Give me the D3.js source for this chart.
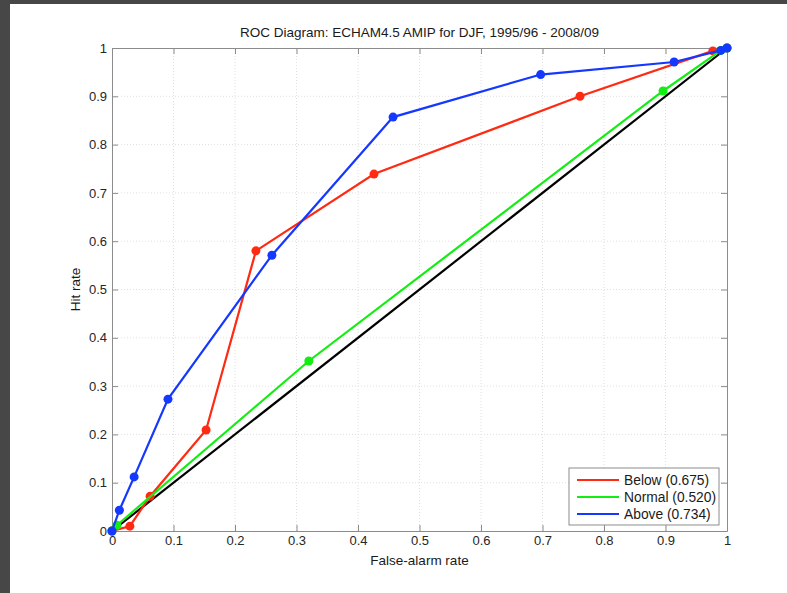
<!DOCTYPE html>
<html>
<head>
<meta charset="utf-8">
<script src="https://cdn.jsdelivr.net/npm/d3@7"></script>
<style>
  body { margin: 0; background: #474747; }
  svg { display: block; font-family: "Liberation Sans", Arial, sans-serif; }
</style>
</head>
<body>
<div id="chart"></div>
<script>
// ROC curve values (false-alarm rate, hit rate)
const belowFar = [0, 0.029, 0.062, 0.153, 0.234, 0.426, 0.761, 0.977, 1];
const belowHit = [0, 0.010, 0.072, 0.209, 0.580, 0.739, 0.900, 0.994, 1];
const normalFar = [0, 0.008, 0.320, 0.896, 0.990, 1];
const normalHit = [0, 0.012, 0.352, 0.911, 0.995, 1];
const aboveFar = [0, 0.012, 0.036, 0.091, 0.260, 0.457, 0.697, 0.914, 0.990, 1];
const aboveHit = [0, 0.043, 0.112, 0.273, 0.571, 0.857, 0.945, 0.971, 0.995, 1];
const seriesNames = ["Below (0.675)", "Normal (0.520)", "Above (0.734)"];
const ticks = [0, 0.1, 0.2, 0.3, 0.4, 0.5, 0.6, 0.7, 0.8, 0.9, 1];

const W = 787, H = 593;
const margin = { top: 48, right: 60, bottom: 62, left: 112 };

const svg = d3.select("#chart").append("svg")
    .attr("width", W)
    .attr("height", H);

// white figure panel over dark background
svg.append("rect")
    .attr("x", 10).attr("y", 4)
    .attr("width", W - 10).attr("height", H - 4)
    .attr("fill", "#fff");

const x = d3.scaleLinear().domain([0, 1]).range([margin.left, W - margin.right]);
const y = d3.scaleLinear().domain([0, 1]).range([H - margin.bottom, margin.top]);

// dotted grid
const grid = svg.append("g").attr("stroke", "#e0e0e0").attr("stroke-dasharray", "1,2");
grid.selectAll(".gx").data(ticks.slice(1, -1)).join("line")
    .attr("x1", d => x(d)).attr("x2", d => x(d))
    .attr("y1", y(0)).attr("y2", y(1));
grid.selectAll(".gy").data(ticks.slice(1, -1)).join("line")
    .attr("x1", x(0)).attr("x2", x(1))
    .attr("y1", d => y(d)).attr("y2", d => y(d));

// axes with inward ticks, on all four sides
const fmt = d => d3.format("~g")(d);
const axStyle = g => {
    g.select(".domain").attr("stroke", "#8c8c8c");
    g.selectAll(".tick line").attr("stroke", "#8c8c8c");
    g.selectAll(".tick text").attr("fill", "#262626").attr("font-size", 13);
};
svg.append("g").attr("transform", `translate(0,${y(0)})`)
    .call(d3.axisBottom(x).tickValues(ticks).tickFormat(fmt).tickSizeInner(-6).tickSizeOuter(0).tickPadding(5))
    .call(axStyle);
svg.append("g").attr("transform", `translate(0,${y(1)})`)
    .call(d3.axisTop(x).tickValues(ticks).tickFormat("").tickSizeInner(-6).tickSizeOuter(0))
    .call(axStyle);
svg.append("g").attr("transform", `translate(${x(0)},0)`)
    .call(d3.axisLeft(y).tickValues(ticks).tickFormat(fmt).tickSizeInner(-6).tickSizeOuter(0).tickPadding(5))
    .call(axStyle);
svg.append("g").attr("transform", `translate(${x(1)},0)`)
    .call(d3.axisRight(y).tickValues(ticks).tickFormat("").tickSizeInner(-6).tickSizeOuter(0))
    .call(axStyle);

const line = d3.line().x(d => x(d[0])).y(d => y(d[1]));

// no-skill diagonal
svg.append("path")
    .attr("d", line([[0, 0], [1, 1]]))
    .attr("fill", "none").attr("stroke", "#000").attr("stroke-width", 2.2);

const series = [
    { name: seriesNames[0], color: "#ff2a12", pts: d3.zip(belowFar, belowHit) },
    { name: seriesNames[1], color: "#12ee12", pts: d3.zip(normalFar, normalHit) },
    { name: seriesNames[2], color: "#1438ff", pts: d3.zip(aboveFar, aboveHit) }
];

series.forEach(s => {
    svg.append("path")
        .attr("d", line(s.pts))
        .attr("fill", "none").attr("stroke", s.color).attr("stroke-width", 2.2);
    svg.append("g").selectAll("circle").data(s.pts).join("circle")
        .attr("cx", d => x(d[0])).attr("cy", d => y(d[1]))
        .attr("r", 4.5).attr("fill", s.color);
});

// legend
const lg = svg.append("g").attr("transform", "translate(569,468)");
lg.append("rect").attr("width", 150).attr("height", 57)
    .attr("fill", "#fff").attr("stroke", "#8c8c8c");
series.forEach((s, i) => {
    const ly = 12 + i * 17;
    lg.append("line").attr("x1", 8).attr("x2", 50).attr("y1", ly).attr("y2", ly)
        .attr("stroke", s.color).attr("stroke-width", 2);
    lg.append("text").attr("x", 55).attr("y", ly + 5)
        .attr("font-size", 13.8).attr("fill", "#1a1a1a").text(s.name);
});

// title and axis labels
svg.append("text").attr("x", x(0.5)).attr("y", 37).attr("text-anchor", "middle")
    .attr("font-size", 13.5).attr("fill", "#1a1a1a")
    .text("ROC Diagram: ECHAM4.5 AMIP for DJF, 1995/96 - 2008/09");
svg.append("text").attr("x", x(0.5)).attr("y", 565).attr("text-anchor", "middle")
    .attr("font-size", 13.5).attr("fill", "#1a1a1a").text("False-alarm rate");
svg.append("text").attr("transform", `translate(80,${y(0.5)}) rotate(-90)`)
    .attr("text-anchor", "middle")
    .attr("font-size", 13.5).attr("fill", "#1a1a1a").text("Hit rate");
</script>
</body>
</html>
